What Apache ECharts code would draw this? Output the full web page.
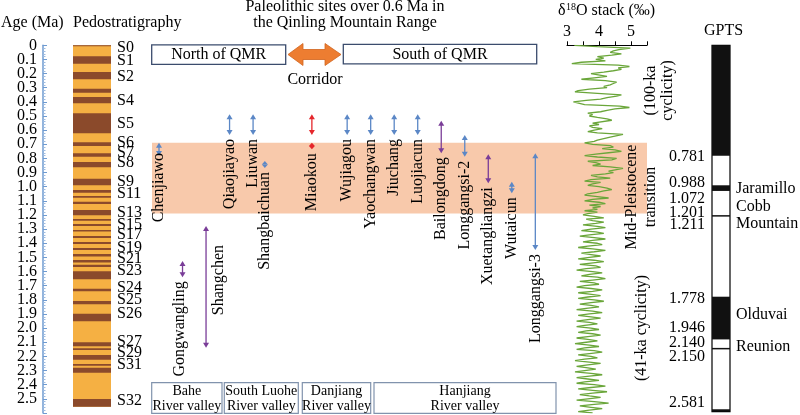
<!DOCTYPE html>
<html><head><meta charset="utf-8">
<script src="https://cdn.jsdelivr.net/npm/echarts@6/dist/echarts.min.js"></script>
<style>html,body{margin:0;padding:0;background:#fff}#c{width:800px;height:415px}</style>
</head><body><div id="c"></div>
<script>
// ---------------- DATA ----------------
const ageMax = 2.6;
const ageTickLabels = ['0','0.1','0.2','0.3','0.4','0.5','0.6','0.7','0.8','0.9','1.0','1.1','1.2','1.3','1.4','1.5','1.6','1.7','1.8','1.9','2.0','2.1','2.2','2.3','2.4','2.5'];
const d18oTickLabels = ['3','4','5'];

// Pedostratigraphy (ages in Ma)
const loessRange = [0, 2.556];
const soilTop  = [0.000,0.078,0.189,0.307,0.366,0.481,0.686,0.764,0.825,0.943,1.023,1.066,1.106,1.165,1.229,1.264,1.306,1.349,1.391,1.434,1.476,1.518,1.552,1.598,1.721,1.808,1.898,2.100,2.143,2.190,2.254,2.280,2.501];
const soilBase = [0.006,0.130,0.240,0.335,0.410,0.622,0.712,0.788,0.863,0.990,1.042,1.078,1.122,1.202,1.241,1.278,1.317,1.363,1.405,1.448,1.494,1.536,1.568,1.655,1.740,1.832,1.952,2.129,2.155,2.223,2.266,2.315,2.556];
const soilLabels   = ['S0','S1','S2','S4','S5','S6','S7','S8','S9','S11','S13','S15','S17','S19','S21','S23','S24','S25','S26','S27','S29','S31','S32'];
const soilLabelAge = [0.019,0.113,0.226,0.392,0.557,0.693,0.760,0.834,0.965,1.047,1.182,1.267,1.343,1.430,1.511,1.593,1.713,1.801,1.897,2.096,2.174,2.256,2.513];

// Paleolithic sites (null = spacer slot)
const siteSlots = ['Chenjiawo',null,'Gongwangling',null,'Shangchen',null,'Qiaojiayao',null,'Liuwan','Shangbaichuan',null,null,null,'Miaokou',null,null,'Wujiagou',null,'Yaochangwan',null,'Jiuchang',null,'Luojiacun',null,'Bailongdong',null,'Longgangsi-2',null,'Xuetangliangzi',null,'Wutaicun',null,'Longgangsi-3'];
const arrowSite = ['Chenjiawo','Gongwangling','Shangchen','Qiaojiayao','Liuwan','Shangbaichuan','Miaokou','Miaokou','Wujiagou','Yaochangwan','Jiuchang','Luojiacun','Bailongdong','Longgangsi-2','Xuetangliangzi','Wutaicun','Longgangsi-3'];
const arrowFrom = [0.689,1.525,1.278,0.488,0.488,0.818,0.488,0.689,0.488,0.488,0.488,0.488,0.533,0.634,0.771,0.965,0.764];
const arrowTo   = [0.783,1.641,2.139,0.634,0.634,0.868,0.634,0.736,0.634,0.634,0.634,0.634,0.764,0.788,0.976,1.047,1.448];
const arrowKind = [0,1,1,0,0,0,2,2,0,0,0,0,1,0,1,0,0];

// Mid-Pleistocene transition band
const mptBand = [0.69, 1.19];

// δ18O stack, 10-ka steps from 0 Ma
const d18oStep = 0.01;
const d18o = [
3.23,3.95,4.98,4.62,4.45,4.35,4.70,4.40,3.95,4.15,
3.90,4.20,3.45,3.15,4.60,4.95,4.60,4.70,4.45,4.15,
3.75,3.80,4.25,3.85,3.45,4.20,4.55,4.45,4.35,4.15,
4.25,3.70,3.35,3.25,3.95,4.70,4.55,4.25,4.05,3.60,
3.20,3.15,3.55,4.65,4.95,4.50,4.25,4.05,3.65,3.80,
3.70,3.95,4.25,4.40,4.45,3.80,4.00,3.70,3.80,4.10,
3.85,3.65,3.95,4.75,4.80,4.35,4.15,3.95,3.85,3.55,
3.80,4.35,4.45,4.10,4.50,4.70,4.30,3.90,3.55,3.95,
4.55,4.40,3.65,3.90,4.05,3.80,4.35,4.75,4.80,4.30,
4.45,4.20,3.75,3.95,4.35,3.75,3.55,4.05,3.80,3.65,
4.00,4.25,4.40,4.15,3.95,3.65,3.55,3.95,4.30,3.80,
3.55,4.00,4.20,3.70,4.05,3.80,3.95,3.55,3.95,3.65,
3.50,3.85,4.15,3.60,3.80,4.15,3.90,3.50,3.95,4.20,
3.75,3.45,3.90,4.15,3.70,3.40,3.85,4.20,3.80,3.50,
3.95,4.10,3.65,3.35,3.80,4.20,3.85,3.45,3.75,4.05,
3.70,3.35,3.85,4.15,3.75,3.40,3.90,4.05,3.60,3.30,
3.80,4.10,3.70,3.45,3.95,4.20,3.80,3.40,3.85,4.00,
3.55,3.30,3.75,4.10,3.80,3.35,3.70,4.05,3.65,3.35,
3.85,4.15,3.75,3.40,3.75,4.00,3.60,3.30,3.80,4.10,
3.70,3.35,3.75,4.05,3.65,3.30,3.70,3.95,3.55,3.30,
3.75,4.00,3.60,3.35,3.80,4.05,3.65,3.30,3.65,3.95,
3.60,3.25,3.70,4.00,3.55,3.30,3.85,4.10,3.70,3.35,
3.75,3.95,3.55,3.25,3.70,4.05,3.65,3.30,3.60,3.90,
3.55,3.25,3.75,4.10,3.70,3.30,3.65,4.00,3.55,3.30,
3.85,4.20,3.75,3.35,3.80,4.25,3.80,3.40,3.70,4.05,
3.65,3.30,3.85,4.30,3.85,3.40,3.75,4.10,3.70,3.35,
3.80];

// GPTS
const gptsRange = [0, 2.59];
const chronTop  = [0, 0.99, 1.201, 1.778, 2.14, 2.574];
const chronBase = [0.781, 1.03, 1.211, 2.08, 2.15, 2.59];
const gptsTickLabels = ['0.781','0.988','1.072','1.201','1.211','1.778','1.946','2.140','2.150','2.581'];
const subchronNames = ['Jaramillo','Cobb\nMountain','Olduvai','Reunion'];
const subchronMid   = [1.03, 1.206, 1.862, 2.145];

// River valleys
const valleys = ['Bahe\nRiver valley','South Luohe\nRiver valley','Danjiang\nRiver valley','Hanjiang\nRiver valley'];

// ---------------- STYLE ----------------
const F16 = '16px "Liberation Serif", serif', F14 = '14px "Liberation Serif", serif';
const KIND_COLORS = ['#5b87c6', '#7a3d98', '#e5262b'];
const LOESS = '#f5b043', SOIL = '#8b4a2b';
const siteLabelStyle = { 'Gongwangling': {dx: -3}, 'Shangchen': {dx: 13, fromTop: true, dy: 19}, 'Chenjiawo': {dy: -3} };
const gptsLabelShift = [1, -2.3, 1.6, -2.4, 8.5, 1.6, 7.8, -4.6, 7.4, -7];
const subchronShift = [-2, -1, 6.4, -2];
const valleyBoxX = [[151.7,222],[224.3,298.3],[302.3,370.7],[374,556]];
const GRID_TOP = 45.3, GRID_H = 141.4 * ageMax;

// ---------------- BUILD ----------------
const siteAxis = siteSlots.map((s, i) => s === null ? ('gap' + i) : s);
const siteNames = siteSlots.filter(s => s !== null);
const slotW = 11.76;

function ageY(i) {
  return { gridIndex: i, type: 'value', min: 0, max: ageMax, inverse: true, show: false };
}
function txt(text, x, y, opt) {
  opt = opt || {};
  return { type: 'text', x: x, y: y, rotation: opt.rot || 0, z: 10,
    style: { text: text, x: 0, y: 0, font: opt.font || F16, fill: '#000',
      textAlign: opt.align || 'center', align: opt.align || 'center',
      textVerticalAlign: opt.va || 'middle', verticalAlign: opt.va || 'middle',
      lineHeight: opt.lh || 16 } };
}
function textEl(text, x, y, align) {
  return {type: 'text', x: x, y: y,
    style: {text: text, x: 0, y: 0, font: F16, fill: '#000', textAlign: align, align: align, textVerticalAlign: 'middle', verticalAlign: 'middle'}};
}

const graphics = [
  txt('Age (Ma)', 1, 23, {align: 'left'}),
  txt('Pedostratigraphy', 73, 23, {align: 'left'}),
  txt('Paleolithic sites over 0.6 Ma in\nthe Qinling Mountain Range', 345, 15, {lh: 16}),
  txt('δ', 558, 11, {align: 'left'}),
  txt('18', 566, 7, {align: 'left', font: '10px "Liberation Serif", serif'}),
  txt('O stack (‰)', 576, 11, {align: 'left'}),
  txt('GPTS', 723.5, 31),
  { type: 'rect', shape: {x: 151.7, y: 44.8, width: 134, height: 19.5}, style: {fill: '#fff', stroke: '#3b4c6d', lineWidth: 1.3}, z: 5 },
  txt('North of QMR', 218.7, 55),
  { type: 'rect', shape: {x: 343.3, y: 44.3, width: 193.4, height: 19.5}, style: {fill: '#fff', stroke: '#3b4c6d', lineWidth: 1.3}, z: 5 },
  txt('South of QMR', 440, 54.5),
  { type: 'polygon', shape: {points: [[288,54.5],[303,43.5],[303,49.5],[325,49.5],[325,43.5],[341,54.5],[325,65.5],[325,59.5],[303,59.5],[303,65.5]]},
    style: {fill: '#ed7d31', stroke: '#d0651e', lineWidth: 0.8}, z: 5 },
  txt('Corridor', 315, 80),
  txt('(100-ka\ncyclicity)', 659.5, 90.5, {rot: Math.PI / 2, lh: 17}),
  txt('Mid-Pleistocene\ntransition', 641.5, 197, {rot: Math.PI / 2, lh: 19}),
  txt('(41-ka cyclicity)', 642, 328, {rot: Math.PI / 2})
];
valleys.forEach((v, i) => {
  const [x0, x1] = valleyBoxX[i];
  graphics.push({ type: 'rect', shape: {x: x0, y: 382.7, width: x1 - x0, height: 30.6}, style: {fill: '#fff', stroke: '#8193ad', lineWidth: 1.2}, z: 5 });
  graphics.push(txt(v, (x0 + x1) / 2, 398.5, {font: F14, lh: 15}));
});

const pedoData = [[loessRange[0], loessRange[1], 0]].concat(soilTop.map((t, i) => [t, soilBase[i], 1]));
const arrowData = arrowSite.map((s, i) => [siteAxis.indexOf(s), arrowFrom[i], arrowTo[i], arrowKind[i]]);
const siteLabelData = siteNames.map(n => {
  const st = siteLabelStyle[n] || {};
  let a;
  if (st.fromTop) a = Math.min(...arrowSite.map((s, i) => s === n ? arrowFrom[i] : 99));
  else a = Math.max(...arrowSite.map((s, i) => s === n ? arrowTo[i] : -1));
  return [siteAxis.indexOf(n), a];
});
const gptsData = [[gptsRange[0], gptsRange[1], 0]].concat(chronTop.map((t, i) => [t, chronBase[i], 1]));
const d18oData = d18o.map((v, i) => [v, +(i * d18oStep).toFixed(2)]);

const chart = echarts.init(document.getElementById('c'));
chart.setOption({
  animation: false,
  graphic: graphics,
  grid: [
    {left: 73, width: 38, top: GRID_TOP, height: GRID_H},
    {left: 159 - slotW / 2, width: slotW * 33, top: GRID_TOP, height: GRID_H},
    {left: 567, width: 80, top: GRID_TOP, height: GRID_H},
    {left: 712, width: 18, top: GRID_TOP, height: GRID_H},
    {left: 152, width: 495, top: GRID_TOP, height: GRID_H},
    {left: 43, width: 10, top: GRID_TOP, height: GRID_H}
  ],
  xAxis: [
    {gridIndex: 0, type: 'value', min: 0, max: 1, show: false},
    {gridIndex: 1, type: 'category', data: siteAxis, show: false},
    {gridIndex: 2, type: 'value', position: 'top', min: 3, max: 5.5, interval: 0.5,
      axisLine: {show: true, lineStyle: {color: '#000', width: 1}},
      axisTick: {show: true, length: 4, lineStyle: {color: '#000'}},
      axisLabel: {show: false},
      splitLine: {show: false}},
    {gridIndex: 3, type: 'value', min: 0, max: 1, show: false},
    {gridIndex: 4, type: 'value', min: 0, max: 1, show: false},
    {gridIndex: 5, type: 'value', min: 0, max: 1, show: false}
  ],
  yAxis: [
    ageY(0), ageY(1), ageY(2), ageY(3), ageY(4),
    {gridIndex: 5, type: 'value', min: 0, max: ageMax, interval: 0.1, inverse: true,
      axisLine: {show: true, lineStyle: {color: '#6f9bd1', width: 1.5}},
      axisTick: {show: true, inside: true, length: 4, lineStyle: {color: '#6f9bd1'}},
      minorTick: {show: true, splitNumber: 5, length: 2.5, lineStyle: {color: '#9dbbe0'}},
      axisLabel: {show: false},
      splitLine: {show: false}}
  ],
  series: [
    { type: 'custom', xAxisIndex: 4, yAxisIndex: 4, z: 1, silent: true, data: [[0, mptBand[0], mptBand[1]]],
      renderItem: (params, api) => {
        const cs = params.coordSys;
        const y0 = api.coord([0, api.value(1)])[1], y1 = api.coord([0, api.value(2)])[1];
        return {type: 'rect', shape: {x: cs.x, y: y0, width: cs.width, height: y1 - y0}, style: {fill: '#f8c9ab'}};
      } },
    // age tick labels
    { type: 'custom', xAxisIndex: 5, yAxisIndex: 5, z: 3, silent: true, data: ageTickLabels.map(t => [0, parseFloat(t)]),
      renderItem: (params, api) => {
        const cs = params.coordSys;
        const y = api.coord([0, api.value(1)])[1];
        return textEl(ageTickLabels[params.dataIndex], cs.x - 6, y, 'right');
      } },
    // d18O tick labels
    { type: 'custom', xAxisIndex: 2, yAxisIndex: 2, z: 3, silent: true, data: d18oTickLabels.map(t => [parseFloat(t), 0]),
      renderItem: (params, api) => {
        const p = api.coord([api.value(0), 0]);
        return textEl(d18oTickLabels[params.dataIndex], p[0], p[1] - 13.5, 'center');
      } },
    { type: 'custom', xAxisIndex: 0, yAxisIndex: 0, z: 2, silent: true, data: pedoData,
      renderItem: (params, api) => {
        const cs = params.coordSys;
        const y0 = api.coord([0, api.value(0)])[1], y1 = api.coord([0, api.value(1)])[1];
        return {type: 'rect', shape: {x: cs.x, y: y0, width: cs.width, height: Math.max(1, y1 - y0)}, style: {fill: api.value(2) ? SOIL : LOESS}};
      } },
    { type: 'custom', xAxisIndex: 0, yAxisIndex: 0, z: 3, silent: true, data: soilLabelAge.map(a => [0, a]),
      renderItem: (params, api) => {
        const cs = params.coordSys;
        const y = api.coord([0, api.value(1)])[1];
        return textEl(soilLabels[params.dataIndex], cs.x + cs.width + 6, y, 'left');
      } },
    { type: 'custom', xAxisIndex: 1, yAxisIndex: 1, z: 4, silent: true, data: arrowData,
      renderItem: (params, api) => {
        const x = api.coord([api.value(0), 0])[0];
        const y1 = api.coord([api.value(0), api.value(1)])[1];
        const y2 = api.coord([api.value(0), api.value(2)])[1];
        const color = KIND_COLORS[api.value(3)];
        const len = y2 - y1, h = Math.min(5, len / 2), w = 3;
        const ch = [
          {type: 'polygon', shape: {points: [[x, y1], [x - w, y1 + h], [x + w, y1 + h]]}, style: {fill: color}},
          {type: 'polygon', shape: {points: [[x, y2], [x - w, y2 - h], [x + w, y2 - h]]}, style: {fill: color}}
        ];
        if (len > 2 * h) ch.push({type: 'line', shape: {x1: x, y1: y1 + h - 1, x2: x, y2: y2 - h + 1}, style: {stroke: color, lineWidth: 1.3}});
        return {type: 'group', children: ch};
      } },
    { type: 'custom', xAxisIndex: 1, yAxisIndex: 1, z: 4, silent: true, data: siteLabelData,
      renderItem: (params, api) => {
        const name = siteNames[params.dataIndex];
        const st = siteLabelStyle[name] || {};
        const p = api.coord([api.value(0), api.value(1)]);
        return {type: 'text', x: p[0] + (st.dx || 0), y: p[1] + (st.dy !== undefined ? st.dy : 4), rotation: Math.PI / 2,
          style: {text: name, x: 0, y: 0, font: F16, fill: '#000', textAlign: 'right', align: 'right', textVerticalAlign: 'middle', verticalAlign: 'middle'}};
      } },
    { type: 'line', xAxisIndex: 2, yAxisIndex: 2, z: 5, silent: true, data: d18oData, showSymbol: false,
      lineStyle: {color: '#6aa63a', width: 1.3} },
    { type: 'custom', xAxisIndex: 3, yAxisIndex: 3, z: 4, silent: true, data: gptsData,
      renderItem: (params, api) => {
        const cs = params.coordSys;
        const y0 = api.coord([0, api.value(0)])[1], y1 = api.coord([0, api.value(1)])[1];
        const outline = api.value(2) === 0;
        return {type: 'rect', shape: {x: cs.x, y: y0, width: cs.width, height: Math.max(1.5, y1 - y0)},
          style: outline ? {fill: '#fff', stroke: '#000', lineWidth: 1.2} : {fill: '#111'}};
      } },
    { type: 'custom', xAxisIndex: 3, yAxisIndex: 3, z: 4, silent: true, data: gptsTickLabels.map(t => [0, parseFloat(t)]),
      renderItem: (params, api) => {
        const cs = params.coordSys;
        const y = api.coord([0, api.value(1)])[1] + gptsLabelShift[params.dataIndex];
        return textEl(gptsTickLabels[params.dataIndex], cs.x - 7, y, 'right');
      } },
    { type: 'custom', xAxisIndex: 3, yAxisIndex: 3, z: 4, silent: true, data: subchronMid.map(a => [0, a]),
      renderItem: (params, api) => {
        const cs = params.coordSys;
        const y = api.coord([0, api.value(1)])[1] + subchronShift[params.dataIndex];
        const el = textEl(subchronNames[params.dataIndex], cs.x + cs.width + 6, y, 'left');
        el.style.lineHeight = 17;
        return el;
      } }
  ]
});
</script></body></html>
